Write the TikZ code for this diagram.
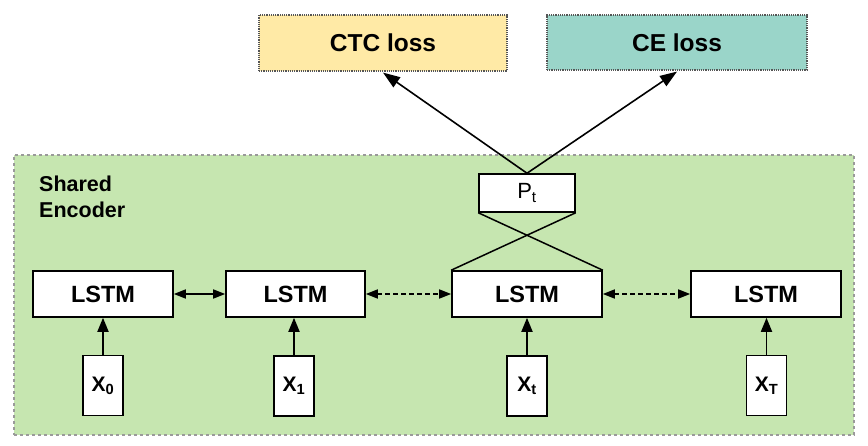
\documentclass[tikz,border=0pt]{standalone}
\usepackage{fontspec}
\setmainfont{Liberation Sans}
\usetikzlibrary{arrows.meta}
\definecolor{ctcfill}{HTML}{FFEAA6}
\definecolor{cefill}{HTML}{9AD5C9}
\definecolor{encfill}{HTML}{C6E6B0}
\definecolor{encline}{HTML}{9A9A9A}
\definecolor{lossline}{HTML}{555555}
\tikzset{
  lossbox/.style={draw=lossline, densely dotted, line width=1.2pt, inner sep=0pt, font=\fontsize{24.5}{28}\selectfont\bfseries},
  lstmbox/.style={draw=black, fill=white, line width=1.6pt, minimum height=46pt, inner sep=0pt, font=\fontsize{23.5}{26}\selectfont\bfseries},
  xbox/.style={draw=black, fill=white, line width=1.6pt, minimum width=40pt, minimum height=60pt, inner sep=0pt, font=\fontsize{21}{24}\selectfont\bfseries},
  uparrow/.style={line width=1.8pt, -{Triangle[length=14pt,width=11pt]}},
  bidir/.style={line width=1.6pt, {Triangle[length=12pt,width=9pt]}-{Triangle[length=12pt,width=9pt]}},
  bidirdash/.style={bidir, dash pattern=on 5pt off 3pt},
  lossarrow/.style={line width=1.6pt, -{Triangle[length=17pt,width=12pt]}},
}
\begin{document}
\begin{tikzpicture}[x=1pt,y=-1pt]
\useasboundingbox (0,0) rectangle (868,446);
% encoder background
\node[draw=encline, fill=encfill, dashed, line width=1.2pt, minimum width=840pt, minimum height=280pt, inner sep=0pt] (enc) at (434,295) {};
\node[anchor=north west, align=left, font=\fontsize{21.5}{26}\selectfont\bfseries, inner sep=0pt] (enclabel) at (39,176) {Shared\\Encoder};
% losses
\node[lossbox, fill=ctcfill, minimum width=248pt, minimum height=56pt] (ctc) at (383,43) {CTC loss};
\node[lossbox, fill=cefill, minimum width=260pt, minimum height=55pt] (ce) at (677,42.5) {CE loss};
% Pt
\node[draw=black, fill=white, line width=1.5pt, minimum width=96pt, minimum height=38pt, inner sep=0pt, font=\fontsize{22}{24}\selectfont] (pt) at (527,193) {P\textsubscript{t}};
% LSTMs
\node[lstmbox, minimum width=140pt] (l0) at (103,294) {LSTM};
\node[lstmbox, minimum width=139pt] (l1) at (295.5,294) {LSTM};
\node[lstmbox, minimum width=150pt] (lt) at (527,294) {LSTM};
\node[lstmbox, minimum width=150pt] (lT) at (766,294) {LSTM};
% inputs
\node[xbox] (x0) at (103,385.5) {X\textsubscript{0}};
\node[xbox] (x1) at (294,386) {X\textsubscript{1}};
\node[xbox] (xt) at (527,386) {X\textsubscript{t}};
\node[xbox] (xT) at (766.5,385.5) {X\textsubscript{T}};
% input arrows
\draw[uparrow] (x0.north) -- (x0.north |- l0.south);
\draw[uparrow] (x1.north) -- (x1.north |- l1.south);
\draw[uparrow] (xt.north) -- (xt.north |- lt.south);
\draw[uparrow] (xT.north) -- (xT.north |- lT.south);
% horizontal
\draw[bidir] (l0.east) -- (l1.west);
\draw[bidirdash] (l1.east) -- (lt.west);
\draw[bidirdash] (lt.east) -- (lT.west);
% cross lines
\draw[line width=1.5pt] (pt.south west) -- (lt.north east);
\draw[line width=1.5pt] (pt.south east) -- (lt.north west);
% loss arrows
\draw[lossarrow] (pt.north) -- ([yshift=-1pt]ctc.south);
\draw[lossarrow] (pt.north) -- ([yshift=-1pt]ce.south);
\end{tikzpicture}
\end{document}
